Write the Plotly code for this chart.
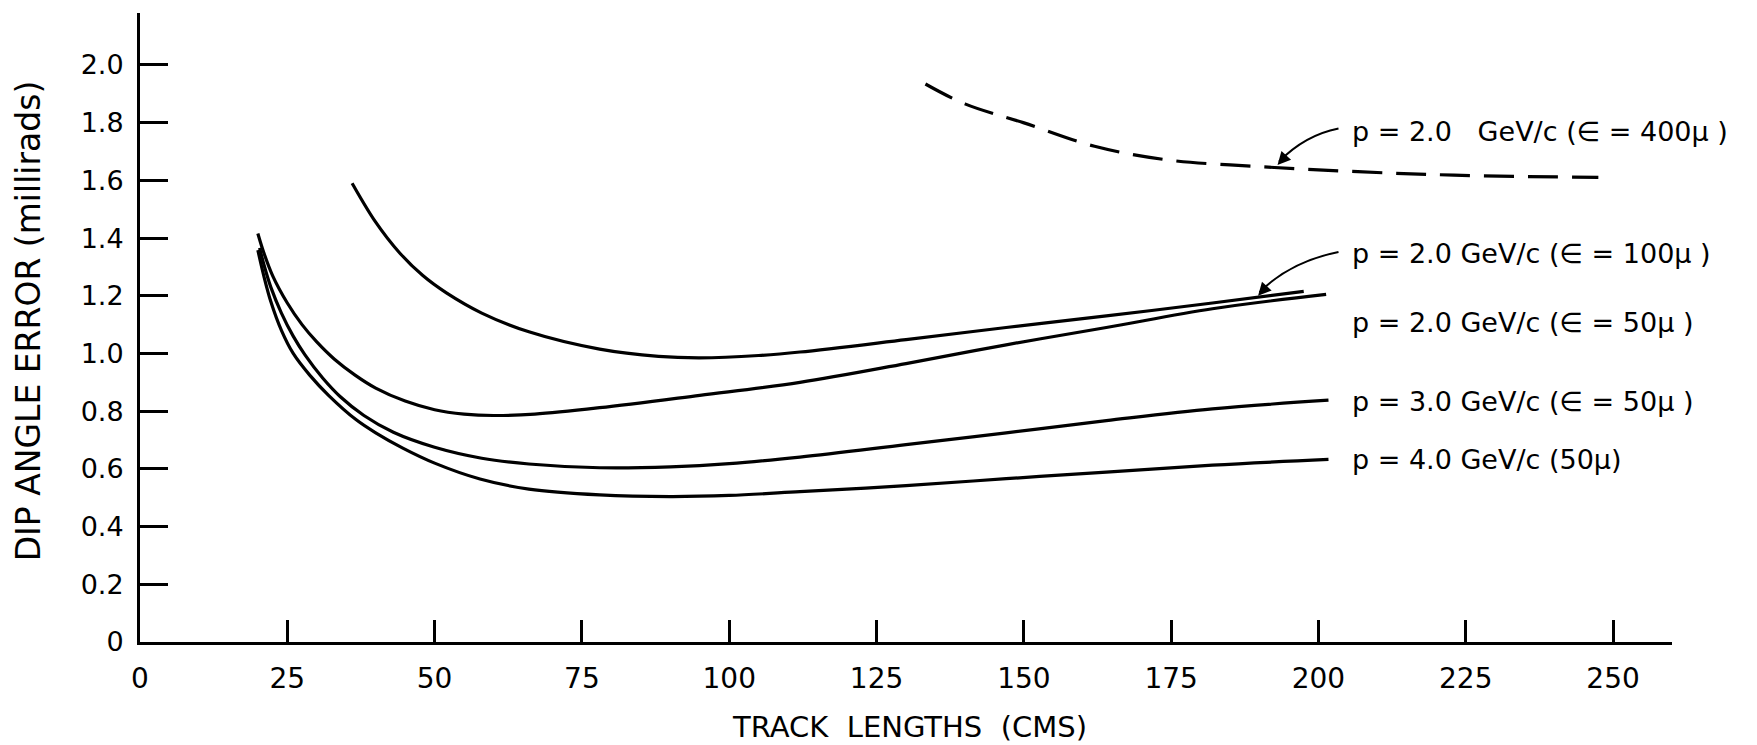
import plotly.graph_objects as go

# Track length (cm) vs dip angle error (milliradians)
x_p2_e100 = [36, 40, 44, 48, 52, 58, 66, 78, 88, 95, 105, 112, 130, 147, 164, 182, 197.5]
y_p2_e100 = [1.59, 1.455, 1.35, 1.27, 1.21, 1.14, 1.075, 1.015, 0.99, 0.985, 0.993, 1.005, 1.048, 1.09, 1.13, 1.175, 1.215]

x_p2_e50 = [20, 21, 22.5, 25, 27.5, 30, 33, 36.5, 40, 45, 50, 55, 60, 67, 78, 95, 112, 130, 147, 164, 182, 201.3]
y_p2_e50 = [1.416, 1.35, 1.27, 1.175, 1.10, 1.04, 0.98, 0.925, 0.88, 0.835, 0.805, 0.79, 0.785, 0.79, 0.812, 0.855, 0.90, 0.965, 1.03, 1.09, 1.155, 1.205]

x_p3_e50 = [20.3, 21, 22.2, 24, 26, 28, 31, 34, 38, 43, 50, 58, 66, 78, 90, 100, 112, 130, 147, 164, 182, 201.7]
y_p3_e50 = [1.366, 1.31, 1.23, 1.14, 1.06, 0.995, 0.915, 0.85, 0.785, 0.727, 0.675, 0.637, 0.617, 0.604, 0.607, 0.618, 0.641, 0.684, 0.725, 0.767, 0.808, 0.838]

x_p4_e50 = [20, 21, 22.2, 24, 26, 28.8, 32, 36.7, 40, 44.6, 50, 57.7, 66, 78, 90, 100, 112, 130, 147, 164, 182, 201.7]
y_p4_e50 = [1.358, 1.27, 1.18, 1.08, 1.0, 0.925, 0.855, 0.77, 0.725, 0.672, 0.62, 0.565, 0.53, 0.51, 0.504, 0.508, 0.521, 0.542, 0.566, 0.589, 0.613, 0.633]

x_p2_e400 = [133.3, 140, 149.9, 162, 174.3, 190.5, 206.7, 223, 247.5]
y_p2_e400 = [1.934, 1.865, 1.80, 1.718, 1.671, 1.647, 1.63, 1.618, 1.61]

x_ticks = [0, 25, 50, 75, 100, 125, 150, 175, 200, 225, 250]
y_ticks = [0, 0.2, 0.4, 0.6, 0.8, 1.0, 1.2, 1.4, 1.6, 1.8, 2.0]
y_tick_text = ["0", "0.2", "0.4", "0.6", "0.8", "1.0", "1.2", "1.4", "1.6", "1.8", "2.0"]

NBSP = "\u00a0"
EPS = "\u2208"
curve_labels = [
    "p" + NBSP + "=" + NBSP + "2.0" + NBSP * 3 + "GeV/c" + NBSP + "(" + EPS + NBSP + "=" + NBSP + "400μ" + NBSP + ")",
    "p" + NBSP + "=" + NBSP + "2.0" + NBSP + "GeV/c" + NBSP + "(" + EPS + NBSP + "=" + NBSP + "100μ" + NBSP + ")",
    "p" + NBSP + "=" + NBSP + "2.0" + NBSP + "GeV/c" + NBSP + "(" + EPS + NBSP + "=" + NBSP + "50μ" + NBSP + ")",
    "p" + NBSP + "=" + NBSP + "3.0" + NBSP + "GeV/c" + NBSP + "(" + EPS + NBSP + "=" + NBSP + "50μ" + NBSP + ")",
    "p" + NBSP + "=" + NBSP + "4.0" + NBSP + "GeV/c" + NBSP + "(50μ)",
]
label_y = [1.768, 1.348, 1.106, 0.835, 0.631]

FONT = "DejaVu Sans"
INK = "black"
LW = 3.2

fig = go.Figure()
for xs, ys in [(x_p2_e100, y_p2_e100), (x_p2_e50, y_p2_e50),
               (x_p3_e50, y_p3_e50), (x_p4_e50, y_p4_e50)]:
    fig.add_trace(go.Scatter(x=xs, y=ys, mode="lines",
                             line=dict(color=INK, width=LW, shape="spline", smoothing=1.0),
                             showlegend=False, hoverinfo="skip"))
fig.add_trace(go.Scatter(x=x_p2_e400, y=y_p2_e400, mode="lines",
                         line=dict(color=INK, width=LW, shape="spline", smoothing=1.0,
                                   dash="30px,14px"),
                         showlegend=False, hoverinfo="skip"))

# curve labels
for txt, ly in zip(curve_labels, label_y):
    fig.add_annotation(x=205.3, y=ly, xref="x", yref="y", text=txt, showarrow=False,
                       xanchor="left", yanchor="middle",
                       font=dict(family=FONT, size=27, color=INK))

# curved leader arrows for the two upper labels
leaders = [
    ((203.4, 1.78), (197.7, 1.757), (193.3, 1.665)),
    ((203.4, 1.352), (195.1, 1.317), (190.0, 1.212)),
]
for (tx, ty), (cx, cy), (hx, hy) in leaders:
    fig.add_shape(type="path", xref="x", yref="y",
                  path=f"M {tx},{ty} Q {cx},{cy} {hx},{hy}",
                  line=dict(color=INK, width=2))
    fig.add_annotation(x=hx - 0.25, y=hy - 0.012, xref="x", yref="y", text="",
                       showarrow=True, arrowhead=2, arrowsize=1.3, arrowwidth=2,
                       arrowcolor=INK, ax=10, ay=-11)

# axis titles
fig.add_annotation(x=-0.073, y=0.51, xref="paper", yref="paper",
                   xanchor="center", yanchor="middle", borderpad=0,
                   text="DIP" + NBSP + "ANGLE" + NBSP + "ERROR" + NBSP + "(millirads)",
                   textangle=-90, showarrow=False,
                   font=dict(family=FONT, size=33, color=INK))
fig.add_annotation(x=0.5026, y=-0.135, xref="paper", yref="paper",
                   xanchor="center", yanchor="middle", borderpad=0,
                   text="TRACK" + NBSP + NBSP + "LENGTHS" + NBSP + NBSP + "(CMS)",
                   showarrow=False,
                   font=dict(family=FONT, size=29, color=INK))

fig.update_xaxes(range=[0, 260], tickvals=x_ticks, ticks="inside", ticklen=22,
                 tickwidth=2.5, tickcolor=INK, showline=True, linewidth=3,
                 linecolor=INK, showgrid=False, zeroline=False,
                 ticklabelstandoff=9,
                 tickfont=dict(family=FONT, size=28, color=INK))
fig.update_yaxes(range=[0, 2.18], tickvals=y_ticks, ticktext=y_tick_text,
                 ticks="inside", ticklen=28, tickwidth=2.5, tickcolor=INK,
                 showline=True, linewidth=3, linecolor=INK, showgrid=False,
                 zeroline=False, ticklabelstandoff=8,
                 tickfont=dict(family=FONT, size=27, color=INK))

fig.update_layout(width=1757, height=745,
                  margin=dict(l=140, r=85, t=13, b=103),
                  paper_bgcolor="white", plot_bgcolor="white")

fig.write_html("out.html")
